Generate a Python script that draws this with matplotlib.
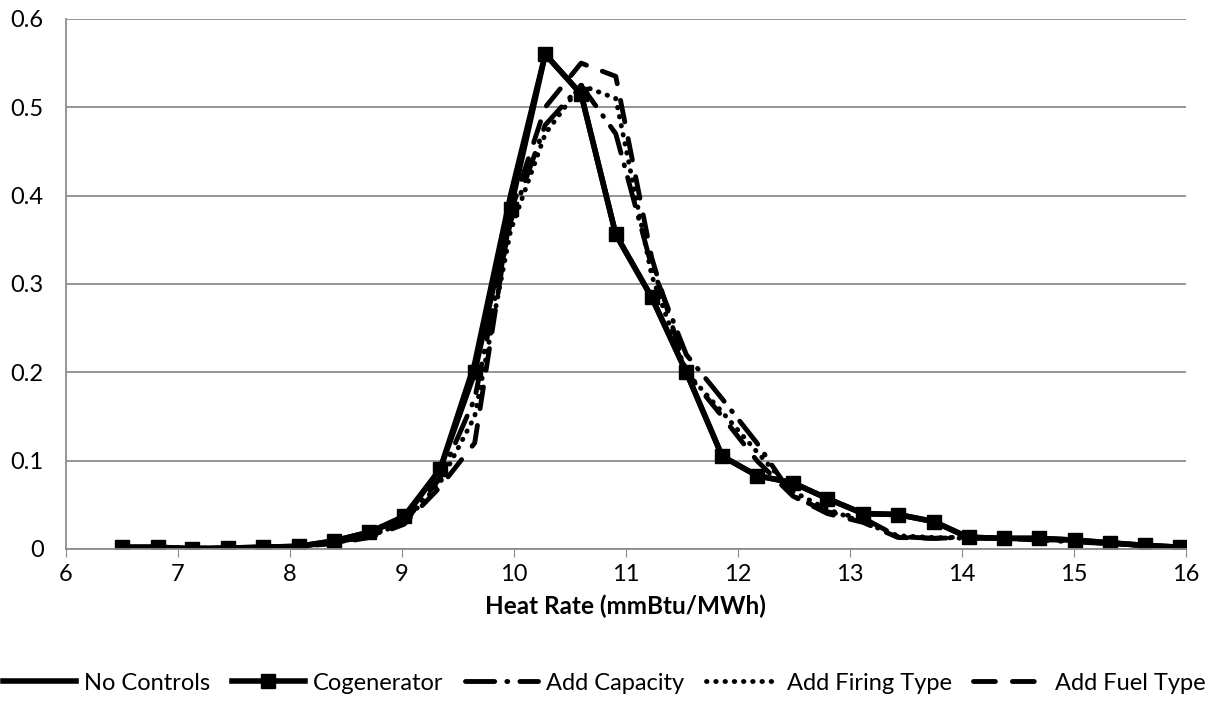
import matplotlib.pyplot as plt

# heat rate bins (mmBtu/MWh)
heat_rate = [6.5, 6.82, 7.13, 7.45, 7.76, 8.08, 8.39, 8.71, 9.02, 9.34, 9.65,
             9.97, 10.28, 10.6, 10.91, 11.23, 11.54, 11.86, 12.17, 12.49, 12.8,
             13.12, 13.43, 13.75, 14.06, 14.38, 14.69, 15.01, 15.32, 15.64, 15.95]

no_controls = [0.002, 0.002, 0.0, 0.001, 0.002, 0.003, 0.009, 0.019, 0.035, 0.09, 0.21,
               0.40, 0.56, 0.515, 0.356, 0.285, 0.2, 0.105, 0.083, 0.075, 0.057,
               0.04, 0.039, 0.031, 0.013, 0.012, 0.012, 0.01, 0.007, 0.004, 0.002]
cogenerator = [0.002, 0.002, 0.0, 0.001, 0.002, 0.003, 0.009, 0.019, 0.037, 0.09, 0.2,
               0.385, 0.56, 0.515, 0.356, 0.285, 0.2, 0.105, 0.083, 0.075, 0.057,
               0.04, 0.039, 0.031, 0.013, 0.012, 0.012, 0.01, 0.007, 0.004, 0.002]
add_capacity = [0.001, 0.001, 0.001, 0.001, 0.002, 0.003, 0.007, 0.015, 0.03, 0.08, 0.17,
                0.37, 0.48, 0.525, 0.47, 0.32, 0.22, 0.17, 0.12, 0.06, 0.042,
                0.035, 0.014, 0.012, 0.014, 0.012, 0.01, 0.008, 0.006, 0.004, 0.002]
add_firing = [0.001, 0.001, 0.001, 0.001, 0.002, 0.003, 0.007, 0.014, 0.03, 0.075, 0.15,
              0.36, 0.47, 0.525, 0.51, 0.31, 0.2, 0.155, 0.11, 0.065, 0.045,
              0.03, 0.015, 0.013, 0.012, 0.012, 0.011, 0.009, 0.006, 0.004, 0.002]
add_fuel = [0.001, 0.001, 0.001, 0.001, 0.002, 0.003, 0.006, 0.013, 0.028, 0.07, 0.12,
            0.38, 0.5, 0.55, 0.535, 0.33, 0.2, 0.15, 0.1, 0.06, 0.04,
            0.03, 0.013, 0.012, 0.013, 0.012, 0.011, 0.009, 0.006, 0.004, 0.002]

plt.rcParams['font.family'] = ['Lato', 'DejaVu Sans']

fig = plt.figure(figsize=(12.08, 7.02), dpi=100)
ax = fig.add_axes([0.0546, 0.218, 0.927, 0.755])

ax.plot(heat_rate, no_controls, color='black', lw=4, label='No Controls')
ax.plot(heat_rate, cogenerator, color='black', lw=4, marker='s', ms=10,
        label='Cogenerator')
ax.plot(heat_rate, add_capacity, color='black', lw=3.5, dashes=(6, 2.5, 0.2, 2.5),
        dash_capstyle='round', label='Add Capacity')
ax.plot(heat_rate, add_firing, color='black', lw=3.5, dashes=(0.1, 1.8),
        dash_capstyle='round', label='Add Firing Type')
ax.plot(heat_rate, add_fuel, color='black', lw=3.5, dashes=(4.5, 3.5),
        dash_capstyle='round', label='Add Fuel Type')

ax.set_xlim(6, 16)
ax.set_ylim(0, 0.6)
ax.set_xticks(range(6, 17))
ax.set_yticks([0, 0.1, 0.2, 0.3, 0.4, 0.5, 0.6])
ax.set_yticklabels(['0', '0.1', '0.2', '0.3', '0.4', '0.5', '0.6'])
ax.yaxis.grid(True, color='#8c8c8c', lw=1.3)
ax.set_axisbelow(True)

for s in ['top', 'right']:
    ax.spines[s].set_visible(False)
ax.spines['left'].set_color('#8c8c8c')
ax.spines['bottom'].set_color('#8c8c8c')
ax.spines['left'].set_linewidth(1.3)
ax.spines['bottom'].set_linewidth(1.3)
ax.tick_params(axis='x', direction='out', length=6, color='#8c8c8c',
               labelsize=17, pad=5)
ax.tick_params(axis='y', length=0, labelsize=17, pad=16)

ax.set_xlabel('Heat Rate (mmBtu/MWh)', fontsize=17.5, fontweight='bold', labelpad=7)

fig.legend(loc='center', bbox_to_anchor=(0.5, 0.027), ncol=5, frameon=False,
           fontsize=17, handlelength=3.1, columnspacing=0.9, handletextpad=0.35)

fig.savefig('out.png', dpi=100)
